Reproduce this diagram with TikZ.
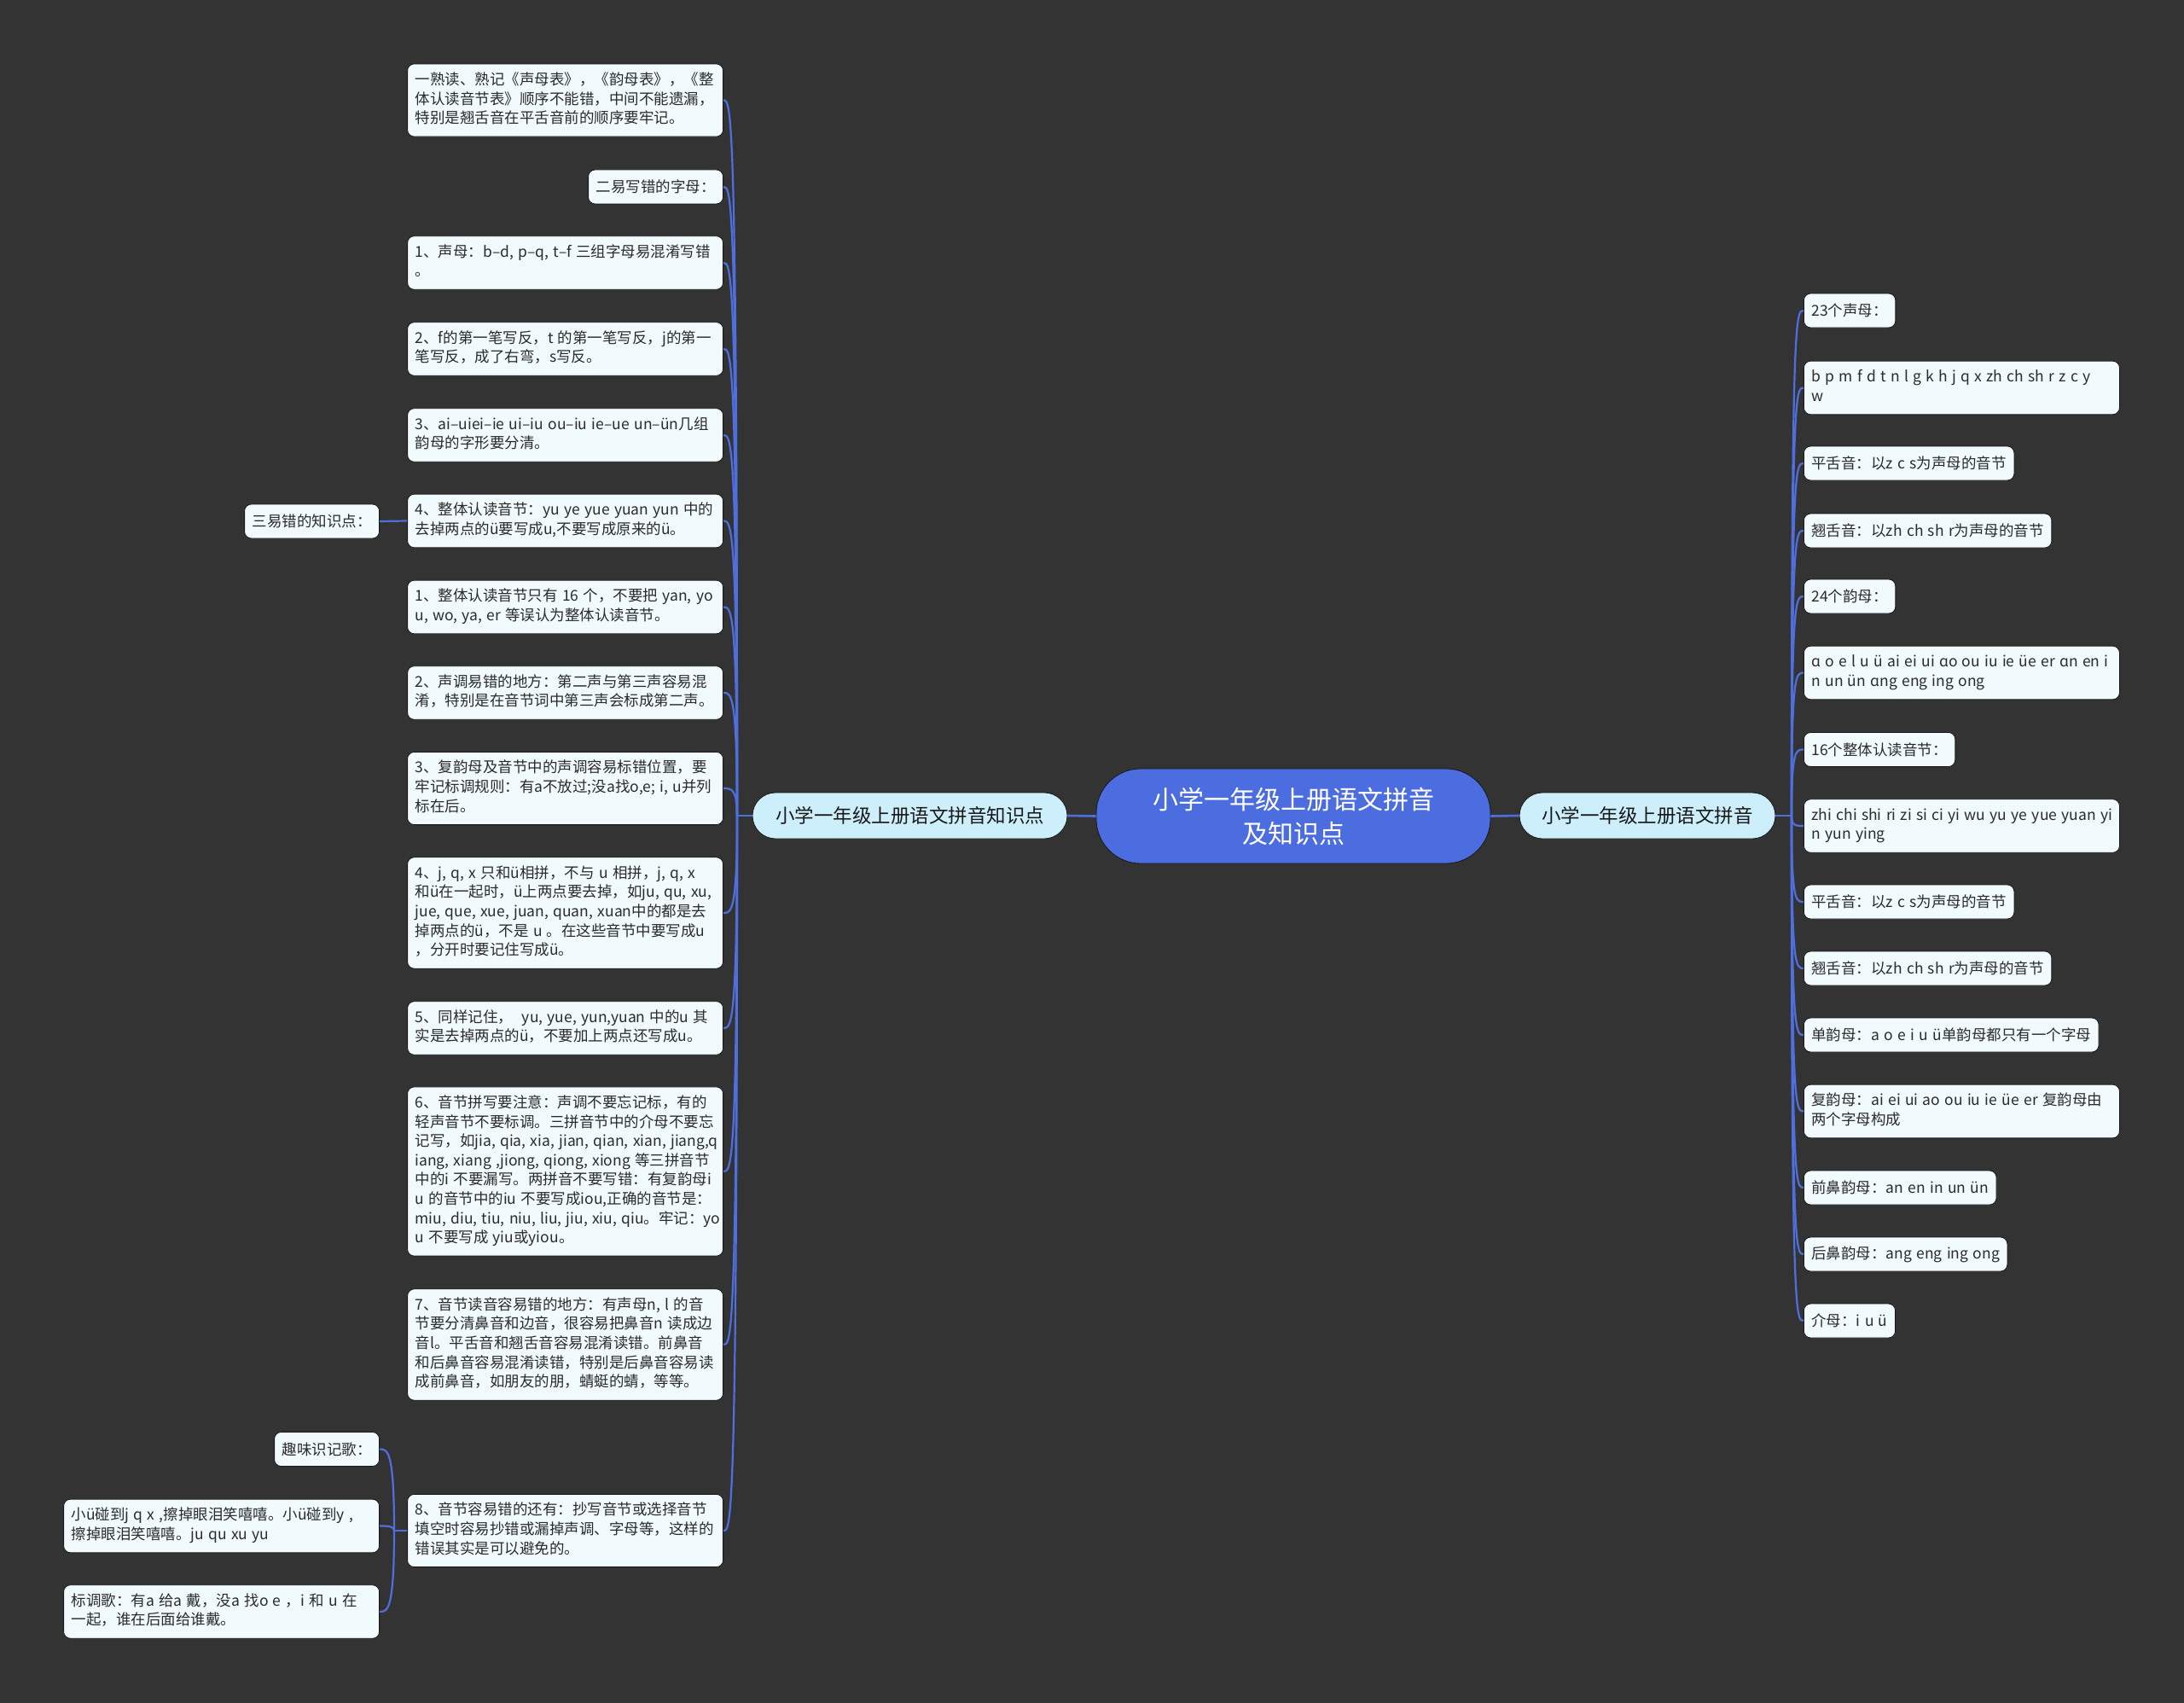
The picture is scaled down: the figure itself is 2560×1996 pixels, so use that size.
\documentclass[tikz,border=0pt]{standalone}
\usepackage{fontspec}
\setmainfont{Noto Sans CJK SC}[WordSpace=1.35]
\usetikzlibrary{calc}
\definecolor{bg}{HTML}{333334}
\definecolor{leaffill}{HTML}{F1FAFC}
\definecolor{lonefill}{HTML}{CDEFFB}
\definecolor{cblue}{HTML}{4B6DE0}
\definecolor{lineblue}{HTML}{4F6FDF}
\definecolor{leaftext}{HTML}{2B2B2B}
\newcommand\wbox[1]{\makebox[352pt][l]{\begin{tabular}{@{}l@{}}#1\end{tabular}}}
\begin{document}
\begin{tikzpicture}[x=1pt,y=-1pt,
  leaf/.style={fill=leaffill, draw=black!55!bg, line width=0.8pt, rounded corners=8pt, inner xsep=9pt, inner ysep=3pt,
    font=\fontsize{17.5}{22.6}\selectfont, text=leaftext, align=left},
  wide/.style={leaf},
  nl/.style={minimum height={17.4pt+22.6pt*#1}},
  lone/.style={fill=lonefill, draw=black!55!bg, line width=0.8pt, rounded corners=27pt, minimum height=54pt,
    font=\fontsize{22.5}{28}\selectfont, text=black!90, align=center},
  rootbox/.style={fill=cblue, draw=black!55!bg, line width=0.8pt, rounded corners=52pt, minimum width=462pt, minimum height=111pt,
    font=\fontsize{30}{40}\selectfont, text=white, align=center},
  conn/.style={draw=lineblue, line width=2.6pt},
  sub/.style={draw=lineblue, line width=2.2pt}
]
\fill[bg] (0,0) rectangle (2560,1996);
\useasboundingbox (0,0) rectangle (2560,1996);

% centre and main branches
\node[rootbox] (C) at (1516,956.5) {小学一年级上册语文拼音\\及知识点};
\node[lone, minimum width=369pt] (LM) at (1066.5,956) {小学一年级上册语文拼音知识点};
\node[lone, minimum width=300pt] (RM) at (1931,956) {小学一年级上册语文拼音};

% left leaves
\node[wide, nl=3, anchor=east] (L1) at (848,117.5) {\wbox{一熟读、熟记《声母表》，《韵母表》，《整\\体认读音节表》顺序不能错，中间不能遗漏，\\特别是翘舌音在平舌音前的顺序要牢记。}};
\node[leaf, nl=1, anchor=east] (L2) at (848,219) {二易写错的字母：};
\node[wide, nl=2, anchor=east] (L3) at (848,308) {\wbox{1、声母：b–d, p–q, t–f 三组字母易混淆写错\\。}};
\node[wide, nl=2, anchor=east] (L4) at (848,409) {\wbox{2、f的第一笔写反，t 的第一笔写反，j的第一\\笔写反，成了右弯，s写反。}};
\node[wide, nl=2, anchor=east] (L5) at (848,510) {\wbox{3、ai–uiei–ie ui–iu ou–iu ie–ue un–ün几组\\韵母的字形要分清。}};
\node[wide, nl=2, anchor=east] (L6) at (848,610.5) {\wbox{4、整体认读音节：yu ye yue yuan yun 中的\\去掉两点的ü要写成u,不要写成原来的ü。}};
\node[leaf, nl=1, anchor=east] (L6c) at (445,611) {三易错的知识点：};
\node[wide, nl=2, anchor=east] (L7) at (848,711.5) {\wbox{1、整体认读音节只有 16 个，不要把 yan, yo\\u, wo, ya, er 等误认为整体认读音节。}};
\node[wide, nl=2, anchor=east] (L8) at (848,812) {\wbox{2、声调易错的地方：第二声与第三声容易混\\淆，特别是在音节词中第三声会标成第二声。}};
\node[wide, nl=3, anchor=east] (L9) at (848,924) {\wbox{3、复韵母及音节中的声调容易标错位置，要\\牢记标调规则：有a不放过;没a找o,e; i, u并列\\标在后。}};
\node[wide, nl=5, anchor=east] (L10) at (848,1070) {\wbox{4、j, q, x 只和ü相拼，不与 u 相拼，j, q, x\\和ü在一起时，ü上两点要去掉，如ju, qu, xu,\\jue, que, xue, juan, quan, xuan中的都是去\\掉两点的ü，不是 u 。在这些音节中要写成u\\，分开时要记住写成ü。}};
\node[wide, nl=2, anchor=east] (L11) at (848,1205) {\wbox{5、同样记住，\ \ yu, yue, yun,yuan 中的u 其\\实是去掉两点的ü，不要加上两点还写成u。}};
\node[wide, nl=8, anchor=east] (L12) at (848,1373) {\wbox{6、音节拼写要注意：声调不要忘记标，有的\\轻声音节不要标调。三拼音节中的介母不要忘\\记写，如jia, qia, xia, jian, qian, xian, jiang,q\\iang, xiang ,jiong, qiong, xiong 等三拼音节\\中的i 不要漏写。两拼音不要写错：有复韵母i\\u 的音节中的iu 不要写成iou,正确的音节是：\\miu, diu, tiu, niu, liu, jiu, xiu, qiu。牢记：yo\\u 不要写成 yiu或yiou。}};
\node[wide, nl=5, anchor=east] (L13) at (848,1576) {\wbox{7、音节读音容易错的地方：有声母n, l 的音\\节要分清鼻音和边音，很容易把鼻音n 读成边\\音l。平舌音和翘舌音容易混淆读错。前鼻音\\和后鼻音容易混淆读错，特别是后鼻音容易读\\成前鼻音，如朋友的朋，蜻蜓的蜻，等等。}};
\node[wide, nl=3, anchor=east] (L14) at (848,1794) {\wbox{8、音节容易错的还有：抄写音节或选择音节\\填空时容易抄错或漏掉声调、字母等，这样的\\错误其实是可以避免的。}};
\node[leaf, nl=1, anchor=east] (L14a) at (445,1698.5) {趣味识记歌：};
\node[wide, nl=2, anchor=east] (L14b) at (445,1788.5) {\wbox{小ü碰到j q x ,擦掉眼泪笑嘻嘻。小ü碰到y ,\\擦掉眼泪笑嘻嘻。ju qu xu yu}};
\node[wide, nl=2, anchor=east] (L14c) at (445,1889) {\wbox{标调歌：有a 给a 戴，没a 找o e ，i 和 u 在\\一起，谁在后面给谁戴。}};

% right leaves
\node[leaf, nl=1, anchor=west] (R1) at (2114,364) {23个声母：};
\node[wide, nl=2, anchor=west] (R2) at (2114,454.5) {\wbox{b p m f d t n l g k h j q x zh ch sh r z c y\\w}};
\node[leaf, nl=1, anchor=west] (R3) at (2114,543) {平舌音：以z c s为声母的音节};
\node[leaf, nl=1, anchor=west] (R4) at (2114,622) {翘舌音：以zh ch sh r为声母的音节};
\node[leaf, nl=1, anchor=west] (R5) at (2114,699) {24个韵母：};
\node[wide, nl=2, anchor=west] (R6) at (2114,788.5) {\wbox{ɑ o e l u ü ai ei ui ɑo ou iu ie üe er ɑn en i\\n un ün ɑng eng ing ong}};
\node[leaf, nl=1, anchor=west] (R7) at (2114,878.5) {16个整体认读音节：};
\node[wide, nl=2, anchor=west] (R8) at (2114,968) {\wbox{zhi chi shi ri zi si ci yi wu yu ye yue yuan yi\\n yun ying}};
\node[leaf, nl=1, anchor=west] (R9) at (2114,1057) {平舌音：以z c s为声母的音节};
\node[leaf, nl=1, anchor=west] (R10) at (2114,1135) {翘舌音：以zh ch sh r为声母的音节};
\node[leaf, nl=1, anchor=west] (R11) at (2114,1213) {单韵母：a o e i u ü单韵母都只有一个字母};
\node[wide, nl=2, anchor=west] (R12) at (2114,1302.5) {\wbox{复韵母：ai ei ui ao ou iu ie üe er 复韵母由\\两个字母构成}};
\node[leaf, nl=1, anchor=west] (R13) at (2114,1392) {前鼻韵母：an en in un ün};
\node[leaf, nl=1, anchor=west] (R14) at (2114,1470) {后鼻韵母：ang eng ing ong};
\node[leaf, nl=1, anchor=west] (R15) at (2114,1548) {介母：i u ü};

% junctions
\coordinate (JL) at (864,956);
\coordinate (JR) at (2100,956);
\coordinate (J2) at (462,1794);

\draw[conn] (C.west) -- (LM.east);
\draw[conn] (C.east) -- (RM.west);
\draw[conn] (LM.west) -- (JL);
\draw[conn] (RM.east) -- (JR);
\foreach \n in {L1,L2,L3,L4,L5,L6,L7,L8,L9,L10,L11,L12,L13,L14}
  \draw[sub] (JL) .. controls (JL|-\n.east) and ($(\n.east)+(9,0)$) .. (\n.east);
\foreach \n in {R1,R2,R3,R4,R5,R6,R7,R8,R9,R10,R11,R12,R13,R14,R15}
  \draw[sub] (JR) .. controls (JR|-\n.west) and ($(\n.west)+(-9,0)$) .. (\n.west);
\draw[sub] (L6.west) -- (L6c.east);
\draw[sub] (L14.west) -- (J2);
\foreach \n in {L14a,L14b,L14c}
  \draw[sub] (J2) .. controls (J2|-\n.east) and ($(\n.east)+(9,0)$) .. (\n.east);
\end{tikzpicture}
\end{document}
